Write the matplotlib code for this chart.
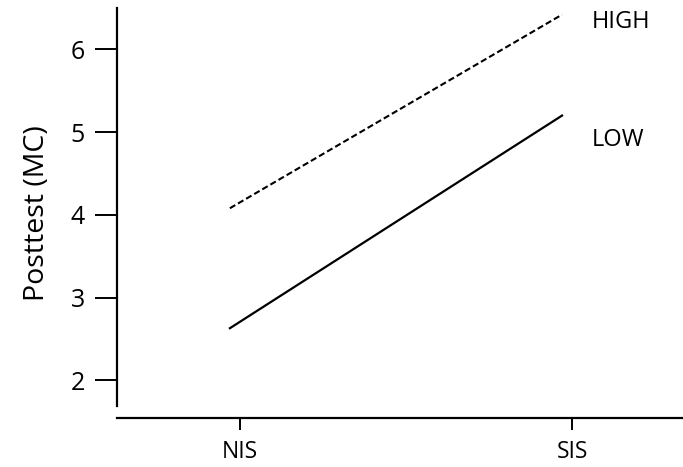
import matplotlib
matplotlib.use("Agg")
import matplotlib.pyplot as plt
import matplotlib.transforms as mtransforms

plt.rcParams['font.family'] = ['Open Sans', 'DejaVu Sans']

conditions = ["NIS", "SIS"]
high = [4.08, 6.42]
low = [2.63, 5.20]
yticks = [2, 3, 4, 5, 6]

fig = plt.figure(figsize=(6.83, 4.67), dpi=100)
W, H = 683, 467
# axes box in pixels: left 117, right 683, top 8, bottom 418
ax = fig.add_axes([117 / W, (H - 418) / H, (683 - 117) / W, (418 - 8) / H])

x = [0, 1]
shift = mtransforms.ScaledTranslation(-10 / 100, 0, fig.dpi_scale_trans)
ax.plot(x, high, color='black', lw=1.5, ls=(0, (3, 1.5)), transform=ax.transData + shift)
ax.plot(x, low, color='black', lw=1.6, transform=ax.transData + shift)

ax.set_xlim(-0.37, 1.334)
ax.set_ylim(1.545, 6.5)

ax.set_xticks(x)
ax.set_xticklabels(conditions)
ax.set_yticks(yticks)

for s in ['top', 'right']:
    ax.spines[s].set_visible(False)
ax.spines['left'].set_bounds(1.69, 6.5)
ax.spines['left'].set_linewidth(1.6)
ax.spines['bottom'].set_linewidth(1.6)

ax.tick_params(axis='y', direction='out', length=16, width=1.4, labelsize=18, pad=7)
ax.tick_params(axis='x', direction='out', length=8.5, width=1.4, labelsize=16.5, pad=7)

ax.set_ylabel("Posttest (MC)", fontsize=20.5, labelpad=14)

ax.text(592, H - 22, "HIGH", transform=None, fontsize=17, va='center', ha='left')
ax.text(592, H - 140, "LOW", transform=None, fontsize=17, va='center', ha='left')

fig.savefig("out.png", dpi=100)
